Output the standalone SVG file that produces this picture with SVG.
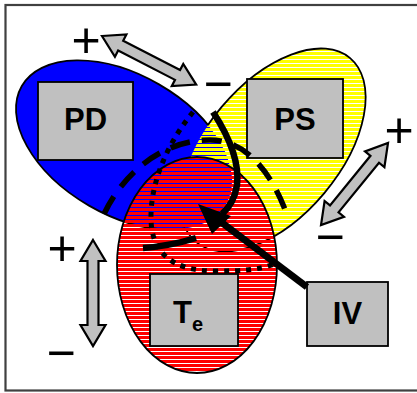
<svg xmlns="http://www.w3.org/2000/svg" width="417" height="393" viewBox="0 0 417 393">
<style>
.box{fill:#C0C0C0;stroke:#000;stroke-width:1.8}
.lbl{font-family:"Liberation Sans",Arial,sans-serif;font-weight:bold;fill:#000;text-anchor:middle}
.sign{font-family:"Liberation Sans",Arial,sans-serif;font-size:50px;fill:#000;text-anchor:middle}
.edge{fill:none;stroke:#000;stroke-width:1.8}
.thick{fill:none;stroke:#000;stroke-width:6.5}
.stripes{fill:none;stroke-width:3}
</style>
<defs>
<clipPath id="cy"><ellipse rx="120" ry="67" transform="translate(273,150) rotate(-50)"/></clipPath>
<clipPath id="cr"><ellipse cx="197" cy="265" rx="80" ry="108"/></clipPath>
<path id="dbl" d="M0,0 L21,-12.5 L21,-5.5 L85,-5.5 L85,-12.5 L106,0 L85,12.5 L85,5.5 L21,5.5 L21,12.5 Z" fill="#C0C0C0" stroke="#000" stroke-width="2.2" stroke-linejoin="miter"/>
<mask id="notY" maskUnits="userSpaceOnUse" x="0" y="0" width="417" height="393"><rect width="417" height="393" fill="#fff"/><ellipse rx="120" ry="67" transform="translate(273,150) rotate(-50)" fill="#000"/></mask>
<mask id="notB" maskUnits="userSpaceOnUse" x="0" y="0" width="417" height="393"><rect width="417" height="393" fill="#fff"/><ellipse rx="118" ry="70" transform="translate(124,145) rotate(30)" fill="#000"/></mask>
</defs>
<rect width="417" height="393" fill="#fff"/>
<rect x="5.5" y="5" width="430" height="385.5" fill="none" stroke="#404040" stroke-width="2.2"/>
<g id="PD">
<ellipse rx="118" ry="70" transform="translate(124,145) rotate(30)" fill="#0000FF"/>
<g mask="url(#notY)"><ellipse rx="118" ry="70" transform="translate(124,145) rotate(30)" class="edge"/></g>
<rect class="box" x="38" y="82" width="95" height="78"/>
<text class="lbl" x="85.5" y="130" font-size="31">PD</text>
</g>
<g id="PS">
<g clip-path="url(#cy)"><path class="stripes" stroke="#FFFF00" d="M150,41.5h250m-250,4h250m-250,4h250m-250,4h250m-250,4h250m-250,4h250m-250,4h250m-250,4h250m-250,4h250m-250,4h250m-250,4h250m-250,4h250m-250,4h250m-250,4h250m-250,4h250m-250,4h250m-250,4h250m-250,4h250m-250,4h250m-250,4h250m-250,4h250m-250,4h250m-250,4h250m-250,4h250m-250,4h250m-250,4h250m-250,4h250m-250,4h250m-250,4h250m-250,4h250m-250,4h250m-250,4h250m-250,4h250m-250,4h250m-250,4h250m-250,4h250m-250,4h250m-250,4h250m-250,4h250m-250,4h250m-250,4h250m-250,4h250m-250,4h250m-250,4h250m-250,4h250m-250,4h250m-250,4h250m-250,4h250m-250,4h250m-250,4h250m-250,4h250m-250,4h250m-250,4h250m-250,4h250m-250,4h250m-250,4h250m-250,4h250m-250,4h250"/></g>
<g mask="url(#notB)"><ellipse rx="120" ry="67" transform="translate(273,150) rotate(-50)" class="edge"/></g>
<rect class="box" x="247" y="79" width="96" height="79"/>
<text class="lbl" x="295" y="130" font-size="31">PS</text>
</g>
<g id="Te">
<g clip-path="url(#cr)"><path class="stripes" stroke="#FF0000" d="M116,157.5h164m-164,4h164m-164,4h164m-164,4h164m-164,4h164m-164,4h164m-164,4h164m-164,4h164m-164,4h164m-164,4h164m-164,4h164m-164,4h164m-164,4h164m-164,4h164m-164,4h164m-164,4h164m-164,4h164m-164,4h164m-164,4h164m-164,4h164m-164,4h164m-164,4h164m-164,4h164m-164,4h164m-164,4h164m-164,4h164m-164,4h164m-164,4h164m-164,4h164m-164,4h164m-164,4h164m-164,4h164m-164,4h164m-164,4h164m-164,4h164m-164,4h164m-164,4h164m-164,4h164m-164,4h164m-164,4h164m-164,4h164m-164,4h164m-164,4h164m-164,4h164m-164,4h164m-164,4h164m-164,4h164m-164,4h164m-164,4h164m-164,4h164m-164,4h164m-164,4h164m-164,4h164m-164,4h164m-164,4h164"/></g>
<ellipse cx="197" cy="265" rx="80" ry="108" class="edge"/>
<rect class="box" x="150" y="274" width="88" height="72"/>
<text class="lbl" x="188" y="323" font-size="31">T<tspan font-size="20" dy="8">e</tspan></text>
</g>
<g id="IV">
<rect class="box" x="307" y="282" width="81" height="64"/>
<text class="lbl" x="347.5" y="324" font-size="31">IV</text>
</g>
<g id="connectors">
<path d="M104,214 C125,170 165,140 210,140 C245,140 270,170 286,212" fill="none" stroke="#000" stroke-width="5.5" stroke-dasharray="20 12"/>
<path d="M193,112 C170,140 150,180 151,220 C152,255 175,271 215,271 C240,271 260,270 274,264" fill="none" stroke="#000" stroke-width="5" stroke-dasharray="5 6"/>
<path class="thick" d="M213,112 C228,135 240,160 237,185 C235,198 230,207 222,214"/>
<path class="thick" d="M143,248 Q170,246 196,238"/>
<path d="M307,287 L221,222" fill="none" stroke="#000" stroke-width="7"/>
<polygon points="198,204 212,234 231,216" fill="#000"/>
<use href="#dbl" transform="translate(102,36) rotate(27.3)"/>
<use href="#dbl" transform="translate(388,143) rotate(129.2)"/>
<use href="#dbl" transform="translate(93,240) rotate(90)"/>
</g>
<g id="signs">
<text class="sign" x="86" y="57">+</text>
<text class="sign" x="218" y="101">−</text>
<text class="sign" x="399" y="147">+</text>
<text class="sign" x="330" y="254">−</text>
<text class="sign" x="62" y="265">+</text>
<text class="sign" x="61" y="370">−</text>
</g>
</svg>
